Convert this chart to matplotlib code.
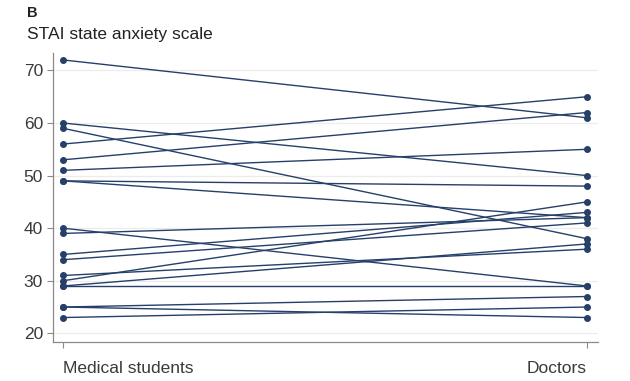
import matplotlib.pyplot as plt

groups = ["Medical students", "Doctors"]
students = [72, 60, 59, 56, 53, 51, 49, 49, 40, 39, 35, 34, 31, 30, 29, 29, 25, 25, 23]
doctors = [61, 50, 38, 65, 62, 55, 48, 42, 29, 42, 43, 41, 36, 45, 29, 37, 27, 23, 25]
yticks = [20, 30, 40, 50, 60, 70]

plt.rcParams['font.family'] = ['Liberation Sans', 'DejaVu Sans']
navy = "#26406a"

fig = plt.figure(figsize=(6.3, 3.81), dpi=100)
ax = fig.add_axes([0.0846, 0.1024, 0.8645, 0.7596])

for s, d in zip(students, doctors):
    ax.plot([0, 1], [s, d], color=navy, lw=1.0, marker="o", ms=4.0, zorder=3)

ax.set_xlim(-0.0185, 1.021)
ax.set_ylim(18.35, 73.4)
ax.set_yticks(yticks)
ax.set_xticks([0, 1])
ax.set_xticklabels(groups)
labels = ax.get_xticklabels()
labels[0].set_ha("left")
labels[1].set_ha("right")

ax.grid(axis="y", color="#ececec", lw=0.9, zorder=0)
for side in ["top", "right"]:
    ax.spines[side].set_visible(False)
for side in ["left", "bottom"]:
    ax.spines[side].set_color("#8a8a8a")
    ax.spines[side].set_linewidth(0.9)
ax.tick_params(axis="both", colors="#8a8a8a", labelcolor="#3a3a3a", labelsize=12.5, length=4, width=0.8)
ax.tick_params(axis="x", pad=10)

fig.text(0.043, 0.985, "B", fontsize=10.5, fontweight="bold", color="#222222", va="top")
fig.text(0.043, 0.93, "STAI state anxiety scale", fontsize=12.5, color="#222222", va="top")

fig.savefig("out.png", dpi=100)
